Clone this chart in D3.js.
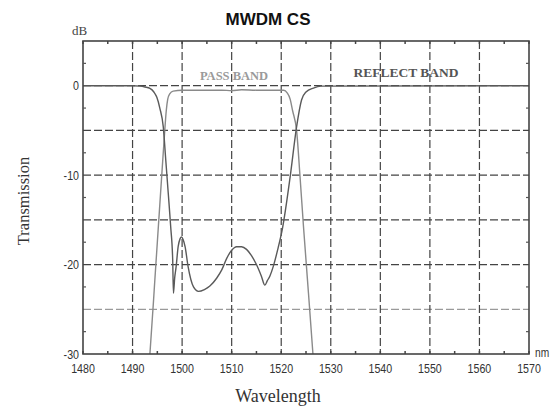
<!DOCTYPE html>
<html>
<head>
<meta charset="utf-8">
<script src="https://cdn.jsdelivr.net/npm/d3@7"></script>
<style>
  body { margin: 0; background: #fff; }
  svg { display: block; }
</style>
</head>
<body>
<script>
// values (nm, dB)
const passWl = [1493.5, 1494.2, 1494.5, 1495.0, 1495.5, 1496.0, 1496.5, 1496.8, 1497.1, 1497.5, 1498.2, 1500, 1505, 1508, 1510, 1512, 1515, 1518, 1520.5, 1521.2, 1521.8, 1522.3, 1523.1, 1523.8, 1524.5, 1525.5, 1526.4];
const passDb = [-30, -24.3, -21.7, -17.5, -13.3, -9.1, -5.0, -2.8, -1.5, -0.9, -0.6, -0.5, -0.5, -0.5, -0.55, -0.45, -0.5, -0.5, -0.5, -0.8, -1.5, -2.8, -5.0, -10.2, -15.8, -23.2, -30];

const reflWl = [1480, 1490, 1491.5, 1492.5, 1493.5, 1494.3, 1494.9, 1495.5, 1496.2, 1496.7, 1497.2, 1497.7, 1498.1, 1498.25, 1498.5, 1498.8, 1499.2, 1499.6, 1499.9, 1500.2, 1500.6, 1501.2, 1502.3, 1503.3, 1504.5, 1505.6, 1507, 1508, 1509, 1510, 1511, 1512, 1513, 1514, 1515, 1516, 1516.7, 1517.2, 1517.7, 1518.4, 1519.3, 1520.3, 1521.8, 1523.1, 1524.1, 1525, 1526.5, 1528, 1570];
const reflDb = [0, 0, -0.05, -0.15, -0.3, -0.7, -1.3, -2.5, -4.6, -8.3, -12, -15.8, -19.5, -23.2, -21.5, -20.2, -18, -17.1, -16.9, -17.2, -18, -20.2, -22.5, -23.0, -22.8, -22.4, -21.5, -20.6, -19.3, -18.4, -18.0, -18.0, -18.3, -19.0, -20.0, -21.3, -22.3, -21.8, -21.3, -20.2, -18.3, -15.8, -10.2, -4.6, -1.6, -0.7, -0.26, -0.05, 0];

const xTicks = [1480, 1490, 1500, 1510, 1520, 1530, 1540, 1550, 1560, 1570];
const yLabels = [0, -10, -20, -30];
const yGrid = [0, -5, -10, -15, -20, -25];
const xMinor = [1485, 1495, 1505, 1515, 1525, 1535, 1545, 1555, 1565];
const yMinor = [2.5, -2.5, -7.5, -12.5, -17.5, -22.5, -27.5];

const W = 553, H = 409;
const margin = {top: 41, right: 24, bottom: 55, left: 83};
const width = W - margin.left - margin.right,
      height = H - margin.top - margin.bottom;

const svg = d3.select("body").append("svg")
    .attr("width", W)
    .attr("height", H);

const g = svg.append("g")
    .attr("transform", `translate(${margin.left}, ${margin.top})`);

const x = d3.scaleLinear().domain([1480, 1570]).range([0, width]);
const y = d3.scaleLinear().domain([-30, 5]).range([height, 0]);

const sans = "'Liberation Sans', Arial, sans-serif";
const serif = "'Liberation Serif', 'Times New Roman', serif";

// dashed grid
g.selectAll(".hgrid")
    .data(yGrid)
  .enter().append("line")
    .attr("x1", 0).attr("x2", width)
    .attr("y1", d => y(d)).attr("y2", d => y(d))
    .attr("stroke", d => d === -25 ? "#9a9a9a" : "#444")
    .attr("stroke-width", 1.3)
    .attr("stroke-dasharray", "8,3");

g.selectAll(".vgrid")
    .data(xTicks.slice(1, -1))
  .enter().append("line")
    .attr("x1", d => x(d)).attr("x2", d => x(d))
    .attr("y1", 0).attr("y2", height)
    .attr("stroke", "#444")
    .attr("stroke-width", 1.2)
    .attr("stroke-dasharray", "8,3");

// curves
const line = d3.line()
    .x(d => x(d[0]))
    .y(d => y(d[1]))
    .curve(d3.curveMonotoneX);

g.append("path")
    .datum(passWl.map((w, i) => [w, passDb[i]]))
    .attr("fill", "none")
    .attr("stroke", "#8a8a8a")
    .attr("stroke-width", 1.4)
    .attr("d", line);

g.append("path")
    .datum(reflWl.map((w, i) => [w, reflDb[i]]))
    .attr("fill", "none")
    .attr("stroke", "#5a5a5a")
    .attr("stroke-width", 1.4)
    .attr("d", line);

// frame
g.append("rect")
    .attr("width", width).attr("height", height)
    .attr("fill", "none")
    .attr("stroke", "#444")
    .attr("stroke-width", 1.6);

// inner ticks
const tickLen = 3;
[0, height].forEach(yy => {
  g.selectAll(null)
      .data(xMinor.concat(xTicks))
    .enter().append("line")
      .attr("x1", d => x(d)).attr("x2", d => x(d))
      .attr("y1", yy).attr("y2", yy === 0 ? tickLen : height - tickLen)
      .attr("stroke", "#444").attr("stroke-width", 1.5);
});
[0, width].forEach(xx => {
  g.selectAll(null)
      .data(yMinor)
    .enter().append("line")
      .attr("y1", d => y(d)).attr("y2", d => y(d))
      .attr("x1", xx).attr("x2", xx === 0 ? tickLen : width - tickLen)
      .attr("stroke", "#555").attr("stroke-width", 1.2);
});

// tick labels (condensed, like the original)
g.selectAll(".xlab")
    .data(xTicks)
  .enter().append("text")
    .attr("transform", d => `translate(${x(d)}, ${height + 19}) scale(0.82, 1)`)
    .attr("text-anchor", "middle")
    .attr("font-family", sans)
    .attr("font-size", 13)
    .attr("fill", "#333")
    .text(d => d);

g.selectAll(".ylab")
    .data(yLabels)
  .enter().append("text")
    .attr("transform", d => `translate(-4, ${y(d) + 4.5}) scale(0.82, 1)`)
    .attr("text-anchor", "end")
    .attr("font-family", sans)
    .attr("font-size", 13)
    .attr("fill", "#333")
    .text(d => d);

// units
svg.append("text")
    .attr("transform", "translate(535, 357) scale(0.85, 1)")
    .attr("font-family", sans).attr("font-size", 12).attr("fill", "#333")
    .text("nm");

svg.append("text")
    .attr("x", 72).attr("y", 35)
    .attr("font-family", serif).attr("font-size", 13).attr("fill", "#444")
    .text("dB");

// title and axis titles
svg.append("text")
    .attr("x", 268).attr("y", 25)
    .attr("text-anchor", "middle")
    .attr("font-family", sans)
    .attr("font-weight", "bold")
    .attr("font-size", 17)
    .attr("fill", "#111")
    .text("MWDM CS");

svg.append("text")
    .attr("x", 278).attr("y", 402)
    .attr("text-anchor", "middle")
    .attr("font-family", serif)
    .attr("font-size", 18)
    .attr("fill", "#333")
    .text("Wavelength");

svg.append("text")
    .attr("transform", "translate(29, 201) rotate(-90)")
    .attr("text-anchor", "middle")
    .attr("font-family", serif)
    .attr("font-size", 16.5)
    .attr("fill", "#333")
    .text("Transmission");

// band labels
svg.append("text")
    .attr("x", 234).attr("y", 80)
    .attr("text-anchor", "middle")
    .attr("font-family", serif).attr("font-weight", "bold")
    .attr("font-size", 12.5).attr("fill", "#9a9a9a")
    .text("PASS BAND");

svg.append("text")
    .attr("x", 406).attr("y", 77)
    .attr("text-anchor", "middle")
    .attr("font-family", serif).attr("font-weight", "bold")
    .attr("font-size", 13.5).attr("fill", "#555")
    .text("REFLECT BAND");
</script>
</body>
</html>
